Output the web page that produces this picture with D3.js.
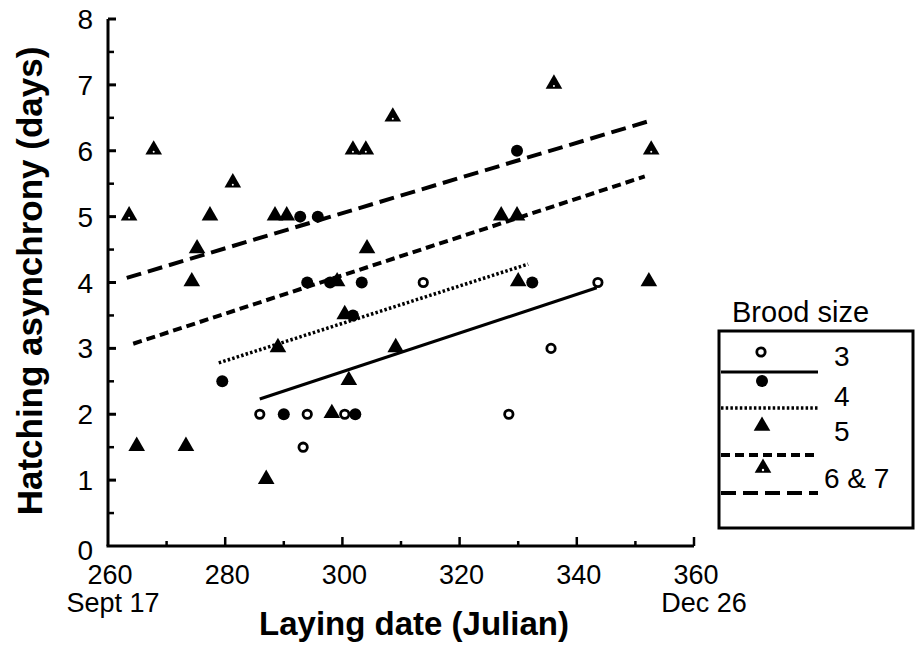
<!DOCTYPE html>
<html lang="en">
<head>
<meta charset="utf-8">
<script src="https://cdn.jsdelivr.net/npm/d3@7"></script>
<style>
  body { margin: 0; background: #fff; }
  text { font-family: "Liberation Sans", Arial, Helvetica, sans-serif; fill: #000; }
</style>
</head>
<body>
<svg id="chart" width="916" height="647"></svg>
<script>
// laying date (julian) vs hatching asynchrony (days), by brood size
var brood3 = [[285.9,2],[294.0,2],[293.3,1.5],[300.4,2],[313.8,4],[328.4,2],[335.6,3],[343.6,4]];
var brood4 = [[279.5,2.5],[290.0,2],[292.8,5],[295.8,5],[294.0,4],[297.9,4],[303.3,4],[301.8,3.5],[302.2,2],[329.8,6],[332.4,4]];
var brood5 = [[264.9,1.5],[273.3,1.5],[274.3,4],[275.2,4.5],[277.4,5],[287.0,1],[289.0,3],[288.5,5],[290.5,5],
              [298.2,2],[299.1,4],[300.4,3.5],[301.1,2.5],[304.2,4.5],[309.1,3],[327.1,5],[329.8,5],[330.0,4],[352.3,4]];
var brood67 = [[263.6,5],[267.8,6],[281.3,5.5],[301.8,6],[304.0,6],[308.6,6.5],[336.1,7],[352.7,6]];

// regression lines, start and end
var fit3 = [[285.9,2.23],[343.4,3.92]];
var fit4 = [[278.9,2.78],[331.7,4.28]];
var fit5 = [[264.3,3.07],[351.6,5.61]];
var fit67 = [[263.2,4.07],[352.7,6.46]];

var xTicks = [260,280,300,320,340,360];
var xMinor = [270,290,310,330,350];
var xSubLabels = {260: "Sept 17", 360: "Dec 26"};
var yTicks = [0,1,2,3,4,5,6,7,8];
var yMinor = [0.5,1.5,2.5,3.5,4.5,5.5,6.5,7.5];
var legendItems = ["3", "4", "5", "6 & 7"];

var svg = d3.select("#chart");

var x = d3.scaleLinear().domain([260,360]).range([108,694]);
var y = d3.scaleLinear().domain([0,8]).range([546,19]);

// axes
svg.append("line").attr("x1", x(260)).attr("x2", x(260)).attr("y1", y(8)).attr("y2", y(0))
    .attr("stroke", "#000").attr("stroke-width", 3);
svg.append("line").attr("x1", x(260) - 1.5).attr("x2", x(360)).attr("y1", y(0)).attr("y2", y(0))
    .attr("stroke", "#000").attr("stroke-width", 3);

svg.selectAll(".ytick").data(yTicks.filter(function(d){ return d > 0; })).enter().append("line")
    .attr("x1", x(260)).attr("x2", x(260) + 8)
    .attr("y1", function(d){ return y(d); }).attr("y2", function(d){ return y(d); })
    .attr("stroke", "#000").attr("stroke-width", 3);
svg.selectAll(".yminor").data(yMinor).enter().append("line")
    .attr("x1", x(260)).attr("x2", x(260) + 6)
    .attr("y1", function(d){ return y(d); }).attr("y2", function(d){ return y(d); })
    .attr("stroke", "#000").attr("stroke-width", 2.5);

svg.selectAll(".xtick").data(xTicks.filter(function(d){ return d > 260; })).enter().append("line")
    .attr("x1", function(d){ return x(d); }).attr("x2", function(d){ return x(d); })
    .attr("y1", y(0)).attr("y2", y(0) - 9)
    .attr("stroke", "#000").attr("stroke-width", 2.5);
svg.selectAll(".xminor").data(xMinor).enter().append("line")
    .attr("x1", function(d){ return x(d); }).attr("x2", function(d){ return x(d); })
    .attr("y1", y(0)).attr("y2", y(0) - 5)
    .attr("stroke", "#000").attr("stroke-width", 2.5);

svg.selectAll(".ylab").data(yTicks).enter().append("text")
    .attr("x", 93).attr("y", function(d){ return y(d) + (d === 0 ? 14 : 10); })
    .attr("text-anchor", "end").style("font-size", "28px")
    .text(function(d){ return d; });

svg.selectAll(".xlab").data(xTicks).enter().append("text")
    .attr("x", function(d){ return x(d) + 2; }).attr("y", 584)
    .attr("text-anchor", "middle").style("font-size", "27px")
    .text(function(d){ return d; });
svg.selectAll(".xsub").data(xTicks.filter(function(d){ return xSubLabels[d]; })).enter().append("text")
    .attr("x", function(d){ return x(d) + (d === 260 ? 5 : 10); }).attr("y", 612)
    .attr("text-anchor", "middle").style("font-size", "27px")
    .text(function(d){ return xSubLabels[d]; });

svg.append("text").attr("x", 414).attr("y", 635).attr("text-anchor", "middle")
    .style("font-size", "33px").style("font-weight", "bold")
    .text("Laying date (Julian)");
svg.append("text").attr("transform", "translate(42,281) rotate(-90)").attr("text-anchor", "middle")
    .style("font-size", "35px").style("font-weight", "bold")
    .text("Hatching asynchrony (days)");

// fitted lines
var line = d3.line().x(function(d){ return x(d[0]); }).y(function(d){ return y(d[1]); });
var lineStyles = [
  {data: fit3, dash: null, w: 3.2},
  {data: fit4, dash: "2.5,2.2", w: 3.5},
  {data: fit5, dash: "9,5", w: 4},
  {data: fit67, dash: "15,7", w: 4}
];
lineStyles.forEach(function(s){
  svg.append("path").attr("d", line(s.data)).attr("fill", "none")
     .attr("stroke", "#000").attr("stroke-width", s.w)
     .attr("stroke-dasharray", s.dash);
});

// markers
var tri = d3.symbol().type(d3.symbolTriangle).size(120);
function drawTri(g, data, holed) {
  g.selectAll(null).data(data).enter().append("path")
    .attr("d", tri)
    .attr("transform", function(d){ return "translate(" + x(d[0]) + "," + (y(d[1]) - 1) + ")"; })
    .attr("fill", "#000");
  if (holed) {
    g.selectAll(null).data(data).enter().append("circle")
      .attr("cx", function(d){ return x(d[0]); }).attr("cy", function(d){ return y(d[1]) + 1; })
      .attr("r", 1).attr("fill", "#fff");
  }
}
var marks = svg.append("g");
drawTri(marks, brood5, false);
drawTri(marks, brood67, true);
marks.selectAll(null).data(brood4).enter().append("circle")
    .attr("cx", function(d){ return x(d[0]); }).attr("cy", function(d){ return y(d[1]); })
    .attr("r", 6).attr("fill", "#000");
marks.selectAll(null).data(brood3).enter().append("circle")
    .attr("cx", function(d){ return x(d[0]); }).attr("cy", function(d){ return y(d[1]); })
    .attr("r", 4.2).attr("fill", "#fff").attr("stroke", "#000").attr("stroke-width", 2.8);

// legend
svg.append("text").attr("x", 732).attr("y", 322).style("font-size", "29px").text("Brood size");
svg.append("rect").attr("x", 719).attr("y", 331).attr("width", 194).attr("height", 197)
    .attr("fill", "none").attr("stroke", "#000").attr("stroke-width", 3);

var legY = [352, 381, 426, 468];
var legLineY = [372, 408, 455, 493];
var leg = svg.append("g");
leg.append("circle").attr("cx", 761).attr("cy", legY[0]).attr("r", 4.2)
   .attr("fill", "#fff").attr("stroke", "#000").attr("stroke-width", 2.8);
leg.append("circle").attr("cx", 762).attr("cy", legY[1]).attr("r", 6).attr("fill", "#000");
leg.append("path").attr("d", tri).attr("transform", "translate(762," + legY[2] + ")").attr("fill", "#000");
leg.append("path").attr("d", tri).attr("transform", "translate(763," + legY[3] + ")").attr("fill", "#000");
leg.append("circle").attr("cx", 763).attr("cy", legY[3] + 2).attr("r", 1.2).attr("fill", "#fff");

lineStyles.forEach(function(s, i){
  leg.append("line").attr("x1", 721).attr("x2", 818)
     .attr("y1", legLineY[i]).attr("y2", legLineY[i])
     .attr("stroke", "#000").attr("stroke-width", s.w).attr("stroke-dasharray", s.dash);
});
leg.selectAll("text").data(legendItems).enter().append("text")
   .attr("x", function(d, i){ return i === 3 ? 824 : 834; })
   .attr("y", function(d, i){ return [366, 406, 441, 488][i]; })
   .style("font-size", "28px")
   .text(function(d){ return d; });
</script>
</body>
</html>
